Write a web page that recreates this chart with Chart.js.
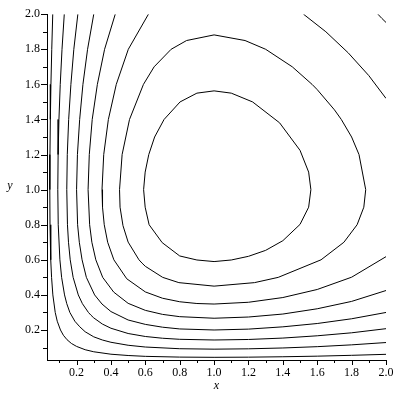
<!DOCTYPE html>
<html>
<head>
<meta charset="utf-8">
<script src="https://cdn.jsdelivr.net/npm/chart.js@4.4.1/dist/chart.umd.min.js"></script>
<style>
    html, body { margin: 0; padding: 0; background: #fff; }
    #wrap { width: 400px; height: 400px; }
</style>
</head>
<body>
<div id="wrap"><canvas id="contourChart" width="400" height="400"></canvas></div>
<script>
// tick positions (0.1 steps, labels every 0.2)
const xTicks = [0.1, 0.2, 0.3, 0.4, 0.5, 0.6, 0.7, 0.8, 0.9, 1.0, 1.1, 1.2, 1.3, 1.4, 1.5, 1.6, 1.7, 1.8, 1.9, 2.0];
const yTicks = [0.1, 0.2, 0.3, 0.4, 0.5, 0.6, 0.7, 0.8, 0.9, 1.0, 1.1, 1.2, 1.3, 1.4, 1.5, 1.6, 1.7, 1.8, 1.9, 2.0];
const tickLabels = ['0.2', '0.4', '0.6', '0.8', '1.0', '1.2', '1.4', '1.6', '1.8', '2.0'];

// contour curves, [x, y] pairs, innermost first
const contour1 = [[0.59,1.0],[0.599,1.1],[0.62,1.2],[0.654,1.3],[0.709,1.4],[0.802,1.5],[0.9,1.55],[1,1.563],
    [1.1,1.55],[1.224,1.5],[1.381,1.381],[1.5,1.224],[1.55,1.1],[1.563,1],[1.55,0.9],[1.5,0.802],[1.4,0.709],
    [1.3,0.654],[1.2,0.62],[1.1,0.599],[1,0.59],[0.9,0.599],[0.8,0.622],[0.698,0.698],[0.622,0.8],[0.599,0.9],[0.59,1.0]];
const contour2 = [[0.45,1.0],[0.465,1.2],[0.508,1.4],[0.589,1.6],[0.651,1.7],[0.75,1.8],[0.84,1.85],[1,1.882],
    [1.18,1.85],[1.3,1.8],[1.455,1.7],[1.57,1.6],[1.585,1.585],[1.6,1.57],[1.7,1.455],[1.74,1.4],[1.8,1.3],
    [1.843,1.2],[1.882,1.0],[1.871,0.9],[1.832,0.8],[1.755,0.7],[1.622,0.6],[1.373,0.5],[1.235,0.47],[1,0.45],
    [0.795,0.47],[0.701,0.5],[0.6,0.563],[0.581,0.581],[0.563,0.6],[0.5,0.701],[0.47,0.795],[0.453,0.9],[0.45,1.0]];
const contour3 = [[0.618,2],[0.501,1.8],[0.431,1.6],[0.385,1.4],[0.358,1.2],[0.348,1.0],[0.351,0.9],[0.361,0.8],
    [0.381,0.7],[0.417,0.6],[0.492,0.492],[0.6,0.417],[0.7,0.381],[0.8,0.361],[0.9,0.351],[1,0.348],[1.2,0.358],
    [1.4,0.385],[1.6,0.431],[1.8,0.501],[2,0.618]];
const contour3b = [[1.52,2],[1.65,1.9],[1.78,1.78],[1.9,1.65],[2,1.52]];
const contour4 = [[0.425,2],[0.363,1.8],[0.321,1.6],[0.291,1.4],[0.274,1.2],[0.267,1.0],[0.276,0.8],[0.289,0.7],
    [0.312,0.6],[0.352,0.5],[0.416,0.416],[0.5,0.352],[0.6,0.312],[0.7,0.289],[0.8,0.276],[1,0.267],[1.2,0.274],
    [1.4,0.291],[1.6,0.321],[1.8,0.363],[2,0.425]];
const contour4b = [[1.953,2],[1.976,1.976],[2,1.953]];
const contour5 = [[0.30,2],[0.264,1.8],[0.237,1.6],[0.218,1.4],[0.205,1.2],[0.2,1.0],[0.206,0.8],[0.216,0.7],
    [0.232,0.6],[0.257,0.5],[0.305,0.4],[0.348,0.348],[0.4,0.305],[0.5,0.257],[0.6,0.232],[0.7,0.216],[0.8,0.206],
    [1,0.2],[1.2,0.205],[1.4,0.218],[1.6,0.237],[1.8,0.264],[2,0.30]];
const contour6 = [[0.2075,2],[0.184,1.8],[0.167,1.6],[0.154,1.4],[0.146,1.2],[0.143,1.0],[0.147,0.8],[0.153,0.7],
    [0.163,0.6],[0.18,0.5],[0.21,0.4],[0.234,0.35],[0.269,0.3],[0.284,0.284],[0.3,0.269],[0.35,0.234],[0.4,0.21],
    [0.5,0.18],[0.6,0.163],[0.7,0.153],[0.8,0.147],[1,0.143],[1.2,0.146],[1.4,0.154],[1.6,0.167],[1.8,0.184],[2,0.2075]];
const contour7 = [[0.1285,2],[0.1153,1.8],[0.105,1.6],[0.0975,1.4],[0.0927,1.2],[0.0908,1.0],[0.0933,0.8],
    [0.103,0.6],[0.113,0.5],[0.13,0.4],[0.143,0.35],[0.161,0.3],[0.19,0.25],[0.2185,0.2185],[0.25,0.19],[0.3,0.161],
    [0.35,0.143],[0.4,0.13],[0.5,0.113],[0.6,0.103],[0.8,0.0933],[1,0.0908],[1.2,0.0927],[1.4,0.0975],[1.6,0.105],
    [1.8,0.1153],[2,0.1285]];
const contour8 = [[0.0614,2],[0.0557,1.8],[0.0509,1.6],[0.0475,1.4],[0.0452,1.2],[0.0443,1.0],[0.0455,0.8],
    [0.0498,0.6],[0.0546,0.5],[0.062,0.4],[0.0759,0.3],[0.0876,0.25],[0.1064,0.2],[0.1233,0.17],[0.1446,0.1446],
    [0.17,0.1233],[0.2,0.1064],[0.25,0.0876],[0.3,0.0759],[0.4,0.062],[0.5,0.0546],[0.6,0.0498],[0.8,0.0455],
    [1,0.0443],[1.2,0.0452],[1.4,0.0475],[1.6,0.0509],[1.8,0.0557],[2,0.0614]];

const contours = [contour1, contour2, contour3, contour3b, contour4, contour4b, contour5, contour6, contour7, contour8];

const axisFont = { family: '"Liberation Serif", "DejaVu Serif", serif', size: 12 };

document.addEventListener('DOMContentLoaded', () => {
    const ctx = document.getElementById('contourChart').getContext('2d');

    // draws the tick marks (long at labelled ticks, short in between) and the axis names
    const axesPlugin = {
        id: 'mapleAxes',
        afterDraw(chart) {
            const c = chart.ctx;
            const xs = chart.scales.x;
            const ys = chart.scales.y;
            const area = chart.chartArea;
            c.save();
            c.strokeStyle = '#000';
            c.lineWidth = 1;
            c.beginPath();
            xTicks.forEach((v, i) => {
                const px = Math.round(xs.getPixelForValue(v)) + 0.5;
                const len = (i % 2 === 1) ? 5 : 3;
                c.moveTo(px, area.bottom);
                c.lineTo(px, area.bottom + len);
            });
            yTicks.forEach((v, i) => {
                const py = Math.round(ys.getPixelForValue(v)) + 0.5;
                const len = (i % 2 === 1) ? 6 : 4;
                c.moveTo(area.left, py);
                c.lineTo(area.left - len, py);
            });
            c.stroke();

            c.fillStyle = '#000';
            c.font = 'italic 12px "Liberation Serif", "DejaVu Serif", serif';
            c.textAlign = 'center';
            c.textBaseline = 'middle';
            c.fillText('y', 10, 186);
            c.fillText('x', (area.left + area.right) / 2, 386);
            c.restore();
        }
    };

    const labelFor = value => {
        const s = Number(value).toFixed(1);
        return tickLabels.includes(s) ? s : '';
    };

    new Chart(ctx, {
        type: 'scatter',
        data: {
            datasets: contours.map((pts, i) => ({
                label: 'level ' + (i + 1),
                data: pts.map(p => ({ x: p[0], y: p[1] })),
                showLine: true,
                borderColor: '#000',
                borderWidth: 1,
                pointRadius: 0,
                tension: 0,
                fill: false
            }))
        },
        options: {
            responsive: false,
            animation: false,
            events: [],
            layout: { padding: { top: 14, right: 14, bottom: 0, left: 0 } },
            plugins: {
                legend: { display: false },
                tooltip: { enabled: false }
            },
            scales: {
                x: {
                    type: 'linear',
                    min: 0.028,
                    max: 2.0,
                    afterFit: scale => { scale.height = 40; },
                    afterBuildTicks: scale => { scale.ticks = xTicks.map(v => ({ value: v })); },
                    grid: { display: false, drawTicks: false },
                    border: { display: true, color: '#000', width: 1 },
                    ticks: {
                        autoSkip: false,
                        maxRotation: 0,
                        padding: 6,
                        color: '#000',
                        font: axisFont,
                        callback: labelFor
                    }
                },
                y: {
                    type: 'linear',
                    min: 0.029,
                    max: 2.0,
                    afterFit: scale => { scale.width = 47; },
                    afterBuildTicks: scale => { scale.ticks = yTicks.map(v => ({ value: v })); },
                    grid: { display: false, drawTicks: false },
                    border: { display: true, color: '#000', width: 1 },
                    ticks: {
                        autoSkip: false,
                        padding: 7,
                        color: '#000',
                        font: axisFont,
                        callback: labelFor
                    }
                }
            }
        },
        plugins: [axesPlugin]
    });
});
</script>
</body>
</html>
